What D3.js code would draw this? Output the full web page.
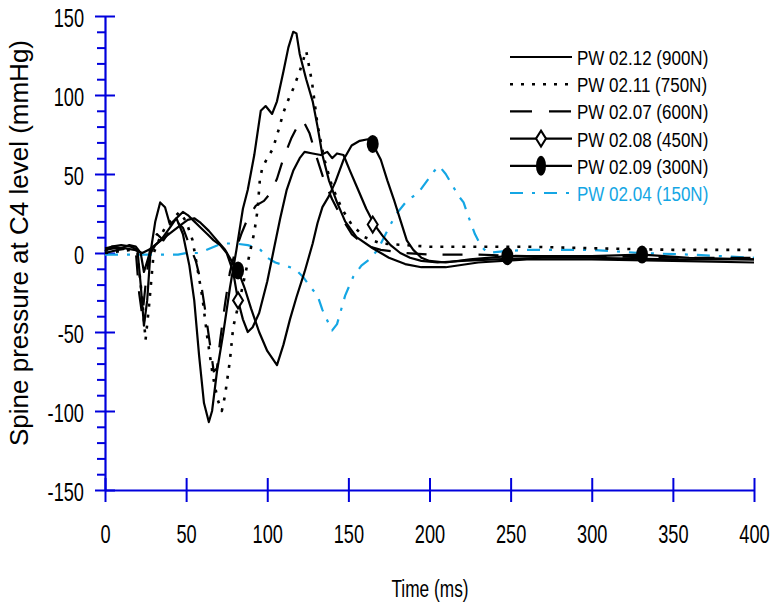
<!DOCTYPE html>
<html><head><meta charset="utf-8">
<script src="https://cdn.jsdelivr.net/npm/d3@7"></script>
<style>html,body{margin:0;padding:0;background:#fff;} svg{display:block;}</style>
</head><body>
<script>
// ---- Data (time in ms, pressure in mmHg) ----
const xTicks = [0, 50, 100, 150, 200, 250, 300, 350, 400];
const yTicks = [-150, -100, -50, 0, 50, 100, 150];
const seriesNames = ["PW 02.12 (900N)", "PW 02.11 (750N)", "PW 02.07 (600N)", "PW 02.08 (450N)", "PW 02.09 (300N)", "PW 02.04 (150N)"];

const t900 = [0,4,10,16,20,22,24,26,28,31,34,37,40,44,48,52,55,58,61,64,66,69,73,77,81,85,88,92,96,99,103,106,110,113,116,118,120,124,128,131,134,138,143,148,155,165,175,185,195,210,230,260,300,350,400];
const p900 = [1,4,5,4,2,-20,-46,-30,0,20,32,29,18,22,12,-8,-30,-65,-95,-107,-100,-75,-50,-22,2,28,40,62,90,93,88,96,115,130,140,139,126,110,96,80,62,46,32,20,10,3,-3,-7,-9,-9,-6,-4,-4,-5,-6];

const t750 = [0,8,16,20,23,25,27,30,34,38,42,46,50,54,57,60,63,66.5,69.5,72,74,77,79,84,88,92,94,95.5,97,100,103.5,107,110,113,116,120,124,127.6,131,135,140,146,152,160,170,185,200,230,260,300,350,400];
const p750 = [0,1,2,0,-30,-55,-35,0,10,18,22,26,20,8,-10,-28,-53,-78,-93,-100,-90,-68,-47,-25,-6,13,27,47,54,60,66,78,89,97,104,115,128,108,81,60,42,28,18,10,6,5,4,4,4,3,2,2];

const t600 = [0,8,15,19,21,23,25,28,32,36,40,44,48,52,56,59,62,65,67,69,71,74,77,80,84,88,93,98,102,106,110,115,119,122,126,130,135,140,146,152,160,170,185,200,230,260,300,350,400];
const p600 = [0,2,3,1,-25,-40,-20,5,12,8,14,20,16,5,-5,-18,-38,-60,-75,-73,-55,-32,-12,0,12,22,30,33,38,47,60,73,81,84,76,62,46,34,22,12,5,2,0,-1,-1,-2,-2,-3,-3];

const t450 = [0,5,10,15,19,22,24,27,31,35,40,44,48,51,55,59,63,67,71,75,79,82,85,88,91,95,100,104,108,112,116,120,123,128,133,137,140,143,147,151,156,161,166,171,176,182,188,195,205,220,240,270,300,350,400];
const p450 = [3,4,3,5,4,0,-12,-2,5,9,16,22,26,24,20,16,12,8,5,0,-12,-30,-42,-50,-47,-38,-18,2,22,40,52,60,64,63,62,64,60,63,62,52,40,28,18,11,5,0,-3,-5,-6,-5,-4,-3,-3,-4,-4];

const t300 = [0,6,12,18,23,27,32,37,42,47,51,55,59,64,69,74,78,82,86,90,95,100,106,110,114,118,123,128,131,134,138,142,147,152,157,162,165,170,174,178,182,186,190,195,200,210,225,248,270,300,331,360,400];
const p300 = [2,3,3,2,0,2,6,10,14,18,21,22,19,14,8,2,-5,-11,-22,-35,-50,-62,-71,-58,-42,-28,-12,6,19,29,36,45,59,68,71,72,69,59,46,34,21,8,2,-3,-5,-6,-4,-2,-2,-2,-1,-3,-4];

const t150 = [0,20,45,50,58,65,72,80,88,95,100,105,111,117,122,127,131,134,138,140,143,148,153,158,163,168,173,179,186,193,198,203,206,210,214,218,221,224,228,232,236,245,260,280,300,330,360,400];
const p150 = [-1,-1,-1,0,0,3,6,6,5,3,-3,-6,-8,-10,-15,-22,-27,-36,-45,-49,-45,-27,-15,-8,-4,2,12,24,33,38,45,52,55,50,43,36,32,23,12,4,0,1,2,2,2,0,-1,-3];

const diamondT = [82, 165];
const diamondP = [-30, 18];
const circleT = [82, 165, 248, 331];
const circleP = [-11, 69, -2, -1];

// ---- Layout ----
const W = 771, H = 608;
const AX = "#0000dc", BLUE = "#14a6e4", FONT = "'Liberation Sans', Arial, sans-serif";
const x = d3.scaleLinear().domain([0, 400]).range([105, 754]);
const y = d3.scaleLinear().domain([-150, 150]).range([490, 16]);
const fmt = d => String(d);
const SX = 0.7; // horizontal squeeze of the narrow typeface

const svg = d3.select("body").append("svg").attr("width", W).attr("height", H);
svg.append("rect").attr("width", W).attr("height", H).attr("fill", "#fff");

function styleAxis(g, keepDomain) {
  g.selectAll("line").attr("stroke", AX).attr("stroke-width", 2);
  if (keepDomain) g.select(".domain").attr("stroke", AX).attr("stroke-width", 2.2);
  else g.select(".domain").remove();
}

// minor y ticks
const minorVals = d3.range(-150, 151, 10).filter(v => v % 50 !== 0);
svg.append("g").attr("transform", `translate(${x(0)},0)`)
  .call(d3.axisLeft(y).tickValues(minorVals).tickSize(8).tickSizeOuter(0).tickFormat(""))
  .call(g => styleAxis(g, false));
// major y ticks (inner side)
svg.append("g").attr("transform", `translate(${x(0)},0)`)
  .call(d3.axisRight(y).tickValues(yTicks).tickSize(10).tickSizeOuter(0).tickFormat(""))
  .call(g => styleAxis(g, false));
// major y axis with labels
const gy = svg.append("g").attr("transform", `translate(${x(0)},0)`)
  .call(d3.axisLeft(y).tickValues(yTicks).tickSize(10).tickSizeOuter(0).tickFormat(fmt))
  .call(g => styleAxis(g, true));
gy.selectAll("text")
  .attr("x", null).attr("dy", null).attr("y", null)
  .attr("transform", `translate(-21,10) scale(${SX},1)`)
  .attr("font-family", FONT).attr("font-size", 26).attr("fill", "#000");

// x axis (upper part of ticks)
svg.append("g").attr("transform", `translate(0,${y(-150)})`)
  .call(d3.axisTop(x).tickValues(xTicks).tickSize(12).tickSizeOuter(0).tickFormat(""))
  .call(g => styleAxis(g, false));
const gx = svg.append("g").attr("transform", `translate(0,${y(-150)})`)
  .call(d3.axisBottom(x).tickValues(xTicks).tickSize(12).tickSizeOuter(0).tickFormat(fmt))
  .call(g => styleAxis(g, true));
gx.selectAll("text")
  .attr("dy", null).attr("y", null)
  .attr("transform", `translate(0,53) scale(${SX},1)`)
  .attr("font-family", FONT).attr("font-size", 26).attr("fill", "#000");

// axis titles
svg.append("text").attr("transform", "translate(430,597) scale(0.72,1)").attr("text-anchor", "middle")
  .attr("font-family", FONT).attr("font-size", 24).attr("fill", "#000")
  .text("Time (ms)");
svg.append("text").attr("transform", "translate(28,243) rotate(-90)").attr("text-anchor", "middle")
  .attr("font-family", FONT).attr("font-size", 26).attr("fill", "#000")
  .text("Spine pressure at C4 level (mmHg)");

// ---- Series ----
const line = d3.line().x(d => x(d[0])).y(d => y(d[1]));
const series = [
  {t: t150, p: p150, color: BLUE, dash: "13,9,3,9", w: 2.2},
  {t: t300, p: p300, color: "#000", dash: null, w: 2.2},
  {t: t450, p: p450, color: "#000", dash: null, w: 2.2},
  {t: t600, p: p600, color: "#000", dash: "20,16", w: 2.2},
  {t: t750, p: p750, color: "#000", dash: "3,8", w: 2.6},
  {t: t900, p: p900, color: "#000", dash: null, w: 2.2}
];
series.forEach(s => {
  svg.append("path").datum(d3.zip(s.t, s.p)).attr("d", line)
    .attr("fill", "none").attr("stroke", s.color).attr("stroke-width", s.w)
    .attr("stroke-dasharray", s.dash).attr("stroke-linejoin", "round");
});

const diamondPath = (cx, cy) => `M${cx},${cy - 8}L${cx + 5},${cy}L${cx},${cy + 8}L${cx - 5},${cy}Z`;
svg.selectAll(".dia").data(d3.zip(diamondT, diamondP)).join("path")
  .attr("d", d => diamondPath(x(d[0]), y(d[1])))
  .attr("fill", "#fff").attr("stroke", "#000").attr("stroke-width", 2);
svg.selectAll(".circ").data(d3.zip(circleT, circleP)).join("ellipse")
  .attr("cx", d => x(d[0])).attr("cy", d => y(d[1])).attr("rx", 6).attr("ry", 9)
  .attr("fill", "#000");

// ---- Legend ----
const legStyles = [
  {color: "#000", dash: null, w: 2.2, marker: null},
  {color: "#000", dash: "3,8", w: 2.6, marker: null},
  {color: "#000", dash: "22,17", w: 2.2, marker: null},
  {color: "#000", dash: null, w: 2.2, marker: "diamond"},
  {color: "#000", dash: null, w: 2.2, marker: "circle"},
  {color: BLUE, dash: "13,9,3,9", w: 2.2, marker: null}
];
const leg = svg.append("g");
seriesNames.forEach((name, i) => {
  const st = legStyles[i];
  const cy = 57 + 27.2 * i;
  leg.append("line").attr("x1", 510).attr("x2", 572).attr("y1", cy).attr("y2", cy)
    .attr("stroke", st.color).attr("stroke-width", st.w).attr("stroke-dasharray", st.dash);
  if (st.marker === "diamond") {
    leg.append("path").attr("d", diamondPath(541, cy)).attr("fill", "#fff").attr("stroke", "#000").attr("stroke-width", 2);
  } else if (st.marker === "circle") {
    leg.append("ellipse").attr("cx", 541).attr("cy", cy).attr("rx", 5).attr("ry", 10).attr("fill", "#000");
  }
  leg.append("text").attr("transform", `translate(577,${cy + 8}) scale(0.81,1)`)
    .attr("font-family", FONT).attr("font-size", 21).attr("fill", st.color)
    .text(name);
});
</script>
</body></html>
